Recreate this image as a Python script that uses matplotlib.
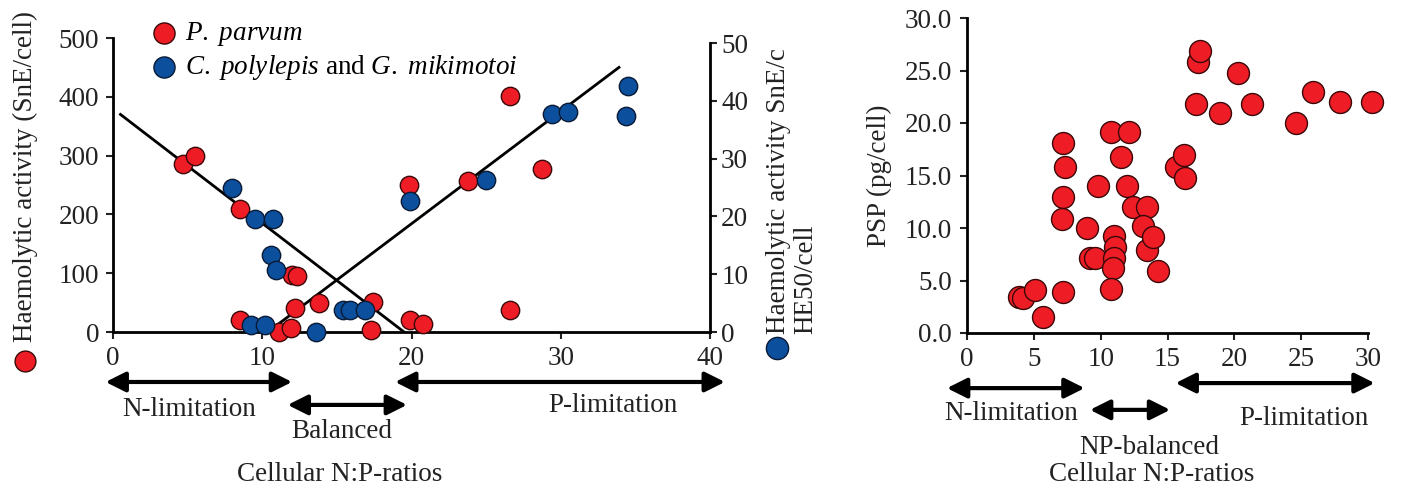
import matplotlib.pyplot as plt
from matplotlib.lines import Line2D

plt.rcParams['font.family'] = ['Liberation Serif', 'DejaVu Serif']
plt.rcParams['mathtext.fontset'] = 'custom'
plt.rcParams['mathtext.rm'] = 'Liberation Serif'
plt.rcParams['mathtext.it'] = 'Liberation Serif:italic'

# ---- left panel: haemolytic activity vs cellular N:P ----
parvum_np = [4.7, 5.5, 8.5, 8.5, 11.1, 11.9, 12.2, 12.0, 12.3, 13.8, 17.4, 17.3,
             19.8, 19.9, 20.8, 23.8, 26.6, 26.6, 28.75]
parvum_ha = [286, 300, 209, 20, 0, 7, 41, 97, 96, 49, 51, 4,
             250, 21, 14, 256, 401, 37, 277]
cg_np = [8.0, 9.5, 10.7, 10.6, 10.9, 9.25, 10.2, 13.6, 15.4, 15.9, 16.9,
         19.9, 25.0, 29.4, 30.5, 34.5, 34.4]
cg_he50 = [25.0, 19.6, 19.5, 13.3, 10.7, 1.2, 1.2, 0.0, 3.8, 3.8, 3.8,
           22.7, 26.3, 37.8, 38.0, 42.6, 37.4]
fit_n_x = [0.5, 19.5]
fit_n_y = [370, 0]
fit_p_x = [11.0, 33.9]
fit_p_y = [12, 450]

# ---- right panel: PSP vs cellular N:P ----
psp_np = [3.9, 4.2, 5.1, 5.7, 7.2, 7.2, 7.1, 7.2, 7.3, 9.0, 9.2, 9.6, 9.8,
          10.75, 12.1, 11.5, 12.0, 12.4, 13.5, 13.2, 13.5, 13.9, 14.3,
          11.0, 11.1, 11.0, 10.9, 10.8, 15.6, 16.2, 16.3, 17.1, 17.3, 17.4,
          18.9, 20.3, 21.3, 24.6, 25.9, 27.9, 30.3]
psp_val = [3.4, 3.3, 4.1, 1.55, 3.9, 13.0, 10.9, 18.1, 15.8, 10.0, 7.1, 7.1, 14.0,
           19.1, 19.1, 16.8, 14.0, 12.0, 12.0, 10.2, 7.9, 9.1, 5.9,
           9.2, 8.2, 7.1, 6.2, 4.2, 15.8, 17.0, 14.8, 21.8, 25.8, 26.9,
           21.0, 24.8, 21.8, 20.0, 23.0, 22.0, 22.0]

# limitation ranges: (start, end, arrow y, label x, label y, label)
left_ranges = [(-0.5, 12.0, -0.170, 5.1, -0.265, 'N-limitation'),
               (11.7, 19.7, -0.248, 15.3, -0.340, 'Balanced'),
               (18.9, 41.0, -0.170, 33.5, -0.250, 'P-limitation')]
right_ranges = [(-1.5, 8.8, -0.175, 3.3, -0.257, 'N-limitation'),
                (9.2, 15.2, -0.244, 13.6, -0.362, 'NP-balanced'),
                (15.6, 30.5, -0.159, 25.2, -0.270, 'P-limitation')]

RED = '#ee1c25'
BLUE = '#0b4f9d'
TXT = '#222222'
FS = 19.5
W, H = 1426, 488


def fpos(x, y):
    return x / W, 1 - y / H


fig = plt.figure(figsize=(14.26, 4.88), dpi=100)

ax1 = fig.add_axes([113 / W, 1 - 332 / H, 597 / W, 294 / H])
ax1r = ax1.twinx()

ax1.scatter(parvum_np, parvum_ha, s=175, c=RED, edgecolors='#3a0808',
            linewidths=1.0, zorder=3, clip_on=False, label=r'$\it{P.\ parvum}$')
ax1r.scatter(cg_np, cg_he50, s=175, c=BLUE, edgecolors='#0a1a35',
             linewidths=1.0, zorder=3, clip_on=False,
             label=r'$\it{C.\ polylepis}$ and $\it{G.\ mikimotoi}$')
ax1.plot(fit_n_x, fit_n_y, color='black', lw=2, zorder=2)
ax1.plot(fit_p_x, fit_p_y, color='black', lw=2, zorder=2)

ax1.set_xlim(0, 40)
ax1.set_ylim(0, 500)
ax1r.set_ylim(0, 50.87)
ax1.set_xticks(range(0, 41, 10))
ax1.set_yticks(range(0, 501, 100))
ax1r.set_yticks(range(0, 51, 10))
ax1r.spines['right'].set_bounds(0, 50)

for a in (ax1, ax1r):
    a.spines['top'].set_visible(False)
    for s in a.spines.values():
        s.set_linewidth(2)
    a.tick_params(labelsize=FS, width=1.5, length=5, pad=5, colors=TXT)
ax1r.spines['left'].set_visible(False)
ax1r.spines['bottom'].set_visible(False)
ax1.spines['right'].set_visible(False)
ax1.tick_params(axis='x', pad=5)
ax1r.tick_params(pad=3)

h1, l1 = ax1.get_legend_handles_labels()
h2, l2 = ax1r.get_legend_handles_labels()
ax1r.legend(h1 + h2, l1 + l2, loc='upper left', frameon=False,
            bbox_to_anchor=fpos(150, 20), bbox_transform=fig.transFigure,
            borderpad=0, borderaxespad=0, handlelength=1.0, handletextpad=0.3,
            labelspacing=0.2, fontsize=FS, scatterpoints=1, markerscale=1.15)

trans = ax1.get_xaxis_transform()
for x0, x1, ya, xt, yt, lab in left_ranges:
    ax1.annotate('', xy=(x1, ya), xytext=(x0, ya), xycoords=trans,
                 arrowprops=dict(arrowstyle='<|-|>', color='black', lw=3,
                                 mutation_scale=30, shrinkA=0, shrinkB=0),
                 annotation_clip=False)
    ax1.text(xt, yt, lab, transform=trans, ha='center', va='center',
             fontsize=FS, color=TXT)
ax1.text(15.2, -0.486, 'Cellular N:P-ratios', transform=trans, ha='center',
         va='center', fontsize=FS, color=TXT)

fig.text(*fpos(25, 342), 'Haemolytic activity (SnE/cell)', rotation=90,
         ha='center', va='bottom', fontsize=FS, color=TXT)
fig.add_artist(Line2D([25 / W], [1 - 361 / H], marker='o', ms=15, mfc=RED,
                      mec='#3a0808', mew=1, transform=fig.transFigure))
fig.text(*fpos(792, 334), 'Haemolytic activity SnE/c\nHE50/cell', rotation=90,
         ha='center', va='bottom', multialignment='left', linespacing=1.15,
         fontsize=FS, color=TXT)
fig.add_artist(Line2D([777 / W], [1 - 348 / H], marker='o', ms=16, mfc=BLUE,
                      mec='#0a1a35', mew=1, transform=fig.transFigure))

# right panel
ax2 = fig.add_axes([967 / W, 1 - 333 / H, 401 / W, 315 / H])
ax2.scatter(psp_np, psp_val, s=250, c=RED, edgecolors='#3a0808',
            linewidths=1.0, zorder=3, clip_on=False)
ax2.set_xlim(0, 30)
ax2.set_ylim(0, 30)
ax2.set_xticks(range(0, 31, 5))
ax2.set_yticks(range(0, 31, 5))
ax2.set_yticklabels([f'{v:.1f}' for v in range(0, 31, 5)])
ax2.spines['top'].set_visible(False)
ax2.spines['right'].set_visible(False)
for s in ax2.spines.values():
    s.set_linewidth(2)
ax2.tick_params(labelsize=FS, width=1.5, length=5, pad=5, colors=TXT)
ax2.tick_params(axis='y', pad=6)
ax2.set_ylabel('PSP (pg/cell)', fontsize=FS, color=TXT, labelpad=9)

trans2 = ax2.get_xaxis_transform()
for x0, x1, ya, xt, yt, lab in right_ranges:
    ax2.annotate('', xy=(x1, ya), xytext=(x0, ya), xycoords=trans2,
                 arrowprops=dict(arrowstyle='<|-|>', color='black', lw=3,
                                 mutation_scale=30, shrinkA=0, shrinkB=0),
                 annotation_clip=False)
    ax2.text(xt, yt, lab, transform=trans2, ha='center', va='center',
             fontsize=FS, color=TXT)
ax2.text(13.8, -0.448, 'Cellular N:P-ratios', transform=trans2, ha='center',
         va='center', fontsize=FS, color=TXT)

fig.savefig('out.png', dpi=100)
